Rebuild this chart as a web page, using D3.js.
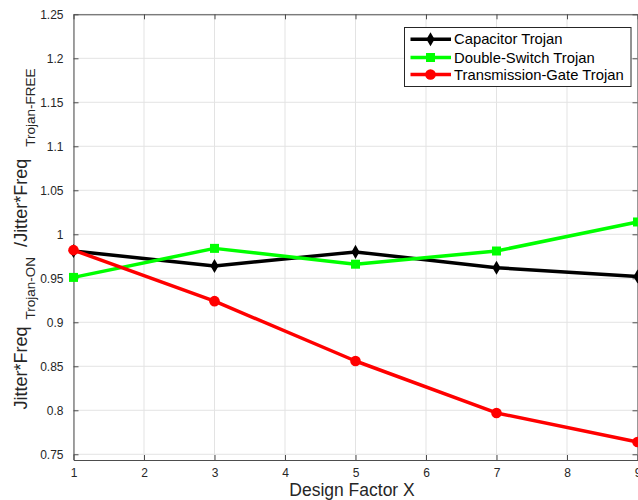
<!DOCTYPE html>
<html>
<head>
<meta charset="utf-8">
<script src="https://cdn.jsdelivr.net/npm/d3@7"></script>
<style>
  html, body { margin: 0; padding: 0; background: #fff; }
  svg { display: block; font-family: "Liberation Sans", Arial, Helvetica, sans-serif; }
</style>
</head>
<body>
<svg id="chart" width="638" height="500"></svg>
<script>
// Data
const designFactor = [1, 3, 5, 7, 9];
const capacitorTrojan = [0.981, 0.964, 0.980, 0.962, 0.952];
const doubleSwitchTrojan = [0.951, 0.984, 0.966, 0.981, 1.014];
const transmissionGateTrojan = [0.982, 0.924, 0.856, 0.797, 0.764];
const xTicks = [1, 2, 3, 4, 5, 6, 7, 8, 9];
const yTicks = [0.75, 0.8, 0.85, 0.9, 0.95, 1, 1.05, 1.1, 1.15, 1.2, 1.25];

const seriesList = [
  { name: 'Capacitor Trojan', values: capacitorTrojan, color: '#000000', symbol: d3.symbolDiamond, size: 57 },
  { name: 'Double-Switch Trojan', values: doubleSwitchTrojan, color: '#00ff00', symbol: d3.symbolSquare, size: 81 },
  { name: 'Transmission-Gate Trojan', values: transmissionGateTrojan, color: '#ff0000', symbol: d3.symbolCircle, size: 88 },
];

const width = 638;
const height = 500;
const margin = { top: 14.3, right: 0.5, bottom: 40, left: 73.5 };
const axisColor = '#4d4d4d';
const textColor = '#262626';

const svg = d3.select('#chart');

const x = d3.scaleLinear()
  .domain([1, 9])
  .range([margin.left, width - margin.right]);

const y = d3.scaleLinear()
  .domain([0.7435, 1.25])
  .range([height - margin.bottom, margin.top]);

// Grid
const grid = svg.append('g');
grid.selectAll('line.gx')
  .data(xTicks)
  .join('line')
  .attr('class', 'gx')
  .attr('x1', (d) => x(d))
  .attr('x2', (d) => x(d))
  .attr('y1', y.range()[0])
  .attr('y2', y.range()[1])
  .attr('stroke', '#e3e3e3')
  .attr('stroke-width', 1);
grid.selectAll('line.gy')
  .data(yTicks)
  .join('line')
  .attr('class', 'gy')
  .attr('x1', x.range()[0])
  .attr('x2', x.range()[1])
  .attr('y1', (d) => y(d))
  .attr('y2', (d) => y(d))
  .attr('stroke', '#e3e3e3')
  .attr('stroke-width', 1);

// Axes (ticks inside, box on)
function styleAxis(g) {
  g.select('.domain').attr('stroke', axisColor).attr('stroke-width', 1);
  g.selectAll('.tick line').attr('stroke', axisColor);
  g.selectAll('.tick text')
    .attr('fill', textColor)
    .attr('font-size', 12)
    .attr('font-family', '"Liberation Sans", Arial, sans-serif');
}

svg.append('g')
  .attr('transform', `translate(0,${y.range()[0]})`)
  .call(d3.axisBottom(x).tickValues(xTicks).tickFormat(d3.format('d'))
    .tickSizeInner(-5).tickSizeOuter(0).tickPadding(8))
  .call(styleAxis);

svg.append('g')
  .attr('transform', `translate(0,${y.range()[1]})`)
  .call(d3.axisTop(x).tickValues(xTicks).tickFormat('')
    .tickSizeInner(-5).tickSizeOuter(0))
  .call(styleAxis);

svg.append('g')
  .attr('transform', `translate(${x.range()[0]},0)`)
  .call(d3.axisLeft(y).tickValues(yTicks).tickFormat((d) => d3.format('')(+d.toFixed(2)))
    .tickSizeInner(-5).tickSizeOuter(0).tickPadding(10))
  .call(styleAxis);

svg.append('g')
  .attr('transform', `translate(${x.range()[1]},0)`)
  .call(d3.axisRight(y).tickValues(yTicks).tickFormat('')
    .tickSizeInner(-5).tickSizeOuter(0))
  .call(styleAxis);

// Lines and markers
const line = d3.line()
  .x((d, i) => x(designFactor[i]))
  .y((d) => y(d));

seriesList.forEach((s) => {
  svg.append('path')
    .datum(s.values)
    .attr('fill', 'none')
    .attr('stroke', s.color)
    .attr('stroke-width', 3.5)
    .attr('stroke-linejoin', 'round')
    .attr('d', line);

  svg.append('g')
    .selectAll('path')
    .data(s.values)
    .join('path')
    .attr('transform', (d, i) => `translate(${x(designFactor[i])},${y(d)})`)
    .attr('d', d3.symbol(s.symbol, s.size))
    .attr('fill', s.color);
});

// Axis labels
svg.append('text')
  .attr('x', 352)
  .attr('y', 496)
  .attr('text-anchor', 'middle')
  .attr('font-size', 17.5)
  .attr('fill', textColor)
  .text('Design Factor X');

const yLabel = svg.append('text')
  .attr('transform', 'translate(26.7,239) rotate(-90)')
  .attr('text-anchor', 'middle')
  .attr('font-size', 18)
  .attr('fill', textColor);
yLabel.append('tspan').text('Jitter*Freq');
yLabel.append('tspan').attr('dx', 7).attr('dy', 8).attr('font-size', 13.5).text('Trojan-ON');
yLabel.append('tspan').attr('dx', 10).attr('dy', -8).text('/Jitter*Freq');
yLabel.append('tspan').attr('dx', 12).attr('dy', 8).attr('font-size', 13.5).text('Trojan-FREE');

// Legend
const legend = svg.append('g');
legend.append('rect')
  .attr('x', 404.5)
  .attr('y', 27.5)
  .attr('width', 226.5)
  .attr('height', 59)
  .attr('fill', '#fff')
  .attr('stroke', textColor)
  .attr('stroke-width', 1);

const legendRows = [39.3, 57.5, 74.5];
seriesList.forEach((s, i) => {
  const row = legend.append('g').attr('transform', `translate(0,${legendRows[i]})`);
  row.append('line')
    .attr('x1', 410.5)
    .attr('x2', 451)
    .attr('stroke', s.color)
    .attr('stroke-width', 3.5);
  row.append('path')
    .attr('transform', 'translate(430.5,0)')
    .attr('d', d3.symbol(s.symbol, s.size))
    .attr('fill', s.color);
  row.append('text')
    .attr('x', 454)
    .attr('y', 5)
    .attr('font-size', 14.8)
    .attr('fill', '#000')
    .text(s.name);
});
</script>
</body>
</html>
